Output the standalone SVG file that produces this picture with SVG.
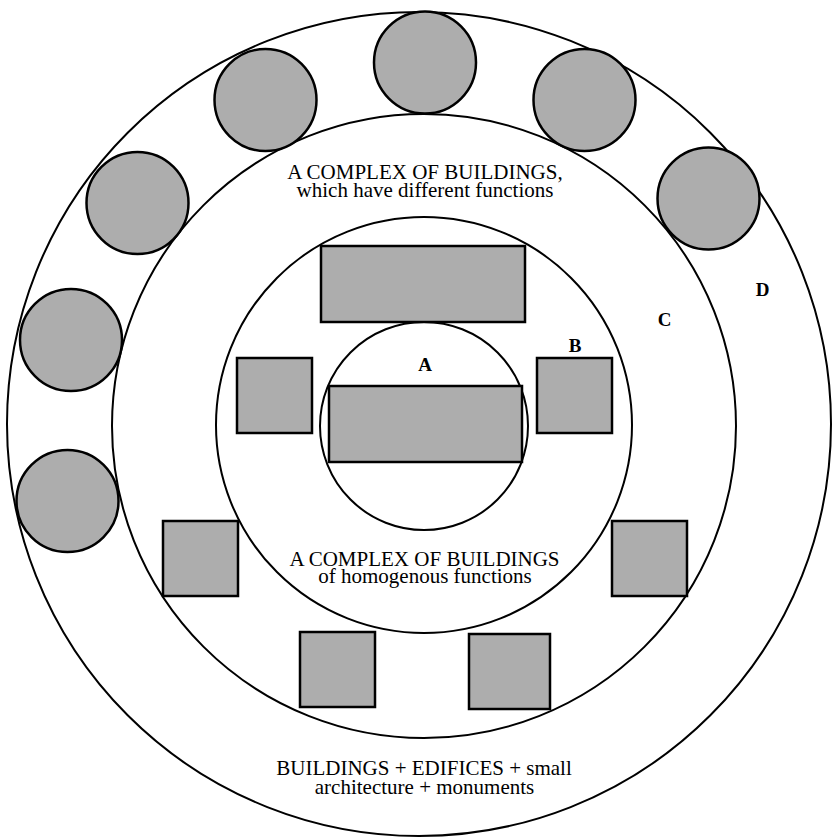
<svg xmlns="http://www.w3.org/2000/svg" width="833" height="838" viewBox="0 0 833 838">
<style>
.ring{fill:none;stroke:#000;stroke-width:2}
.bld{fill:#adadad;stroke:#000;stroke-width:2.5}
.lbl{font-family:"Liberation Serif","Times New Roman",serif;font-size:21px;fill:#000;text-anchor:middle}
.zone{font-family:"Liberation Serif","Times New Roman",serif;font-size:19px;font-weight:bold;fill:#000;text-anchor:middle}
</style>
<rect width="833" height="838" fill="#fff"/>
<g id="zone-D">
<circle class="ring" cx="419" cy="424" r="412"/>
<text class="zone" x="762.5" y="296">D</text>
</g>
<g id="zone-C">
<circle class="ring" cx="424" cy="426" r="312"/>
<text class="zone" x="664.5" y="326">C</text>
</g>
<g id="zone-B">
<circle class="ring" cx="424" cy="425" r="208"/>
<text class="zone" x="575" y="352">B</text>
</g>
<g id="zone-A">
<circle class="ring" cx="424" cy="426" r="104"/>
<text class="zone" x="425" y="370.5">A</text>
</g>
<g id="outer-buildings">
<circle class="bld" cx="425" cy="62.5" r="51"/>
<circle class="bld" cx="265.5" cy="100" r="51"/>
<circle class="bld" cx="584.5" cy="100" r="51"/>
<circle class="bld" cx="137.5" cy="203" r="51"/>
<circle class="bld" cx="708.5" cy="198.5" r="51"/>
<circle class="bld" cx="71" cy="340" r="51"/>
<circle class="bld" cx="67.5" cy="501" r="51"/>
</g>
<g id="ring-C-buildings">
<rect class="bld" x="163" y="521" width="75" height="75"/>
<rect class="bld" x="612" y="521" width="75" height="75"/>
<rect class="bld" x="300" y="632" width="75" height="75"/>
<rect class="bld" x="469" y="634" width="81" height="75"/>
</g>
<g id="ring-B-buildings">
<rect class="bld" x="321" y="246" width="204" height="76"/>
<rect class="bld" x="237" y="358" width="75" height="75"/>
<rect class="bld" x="537" y="358" width="75" height="75"/>
</g>
<g id="core-building">
<rect class="bld" x="329" y="386" width="193" height="76"/>
</g>
<g id="label-C">
<text class="lbl" x="425" y="179">A COMPLEX OF BUILDINGS,</text>
<text class="lbl" x="425" y="197">which have different functions</text>
</g>
<g id="label-B">
<text class="lbl" x="424.5" y="565.5">A COMPLEX OF BUILDINGS</text>
<text class="lbl" x="425" y="583">of homogenous functions</text>
</g>
<g id="label-D">
<text class="lbl" x="424" y="775">BUILDINGS + EDIFICES + small</text>
<text class="lbl" x="424.5" y="794">architecture + monuments</text>
</g>
<g id="connectors"></g>
</svg>
